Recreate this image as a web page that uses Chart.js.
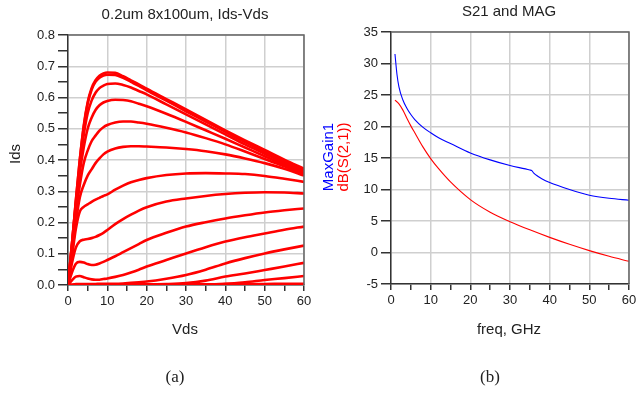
<!DOCTYPE html>
<html>
<head>
<meta charset="utf-8">
<script src="https://cdn.jsdelivr.net/npm/chart.js@4.4.0/dist/chart.umd.min.js"></script>
<style>
  html, body { margin: 0; padding: 0; background: #fff; }
  #wrap { position: relative; width: 644px; height: 393px; }
  canvas { position: absolute; top: 0; }
  #ivChart { left: 0; }
  #gainChart { left: 322px; }
</style>
</head>
<body>
<div id="wrap">
  <canvas id="ivChart" width="322" height="393"></canvas>
  <canvas id="gainChart" width="322" height="393"></canvas>
</div>
<script>
// (a) Ids-Vds family, one array per gate step
const vds = [0, 1, 2, 3, 4, 5, 6, 7, 8, 9, 10, 12, 14, 16, 18, 20, 25, 30, 35, 40, 45, 50, 55, 60]
const ids1 = [0, 0.13, 0.27, 0.40, 0.51, 0.585, 0.63, 0.655, 0.67, 0.677, 0.68, 0.679, 0.668, 0.655, 0.642, 0.628, 0.595, 0.562, 0.528, 0.495, 0.463, 0.432, 0.401, 0.372]
const ids2 = [0, 0.13, 0.27, 0.40, 0.505, 0.58, 0.625, 0.65, 0.663, 0.67, 0.673, 0.672, 0.663, 0.65, 0.637, 0.623, 0.59, 0.556, 0.523, 0.49, 0.457, 0.426, 0.396, 0.367]
const ids3 = [0, 0.13, 0.26, 0.38, 0.48, 0.55, 0.59, 0.615, 0.63, 0.638, 0.643, 0.645, 0.64, 0.632, 0.621, 0.61, 0.578, 0.546, 0.514, 0.482, 0.45, 0.42, 0.39, 0.362]
const ids4 = [0, 0.12, 0.25, 0.36, 0.44, 0.5, 0.535, 0.56, 0.575, 0.584, 0.589, 0.593, 0.592, 0.588, 0.58, 0.572, 0.548, 0.522, 0.495, 0.468, 0.44, 0.412, 0.385, 0.357]
const ids5 = [0, 0.11, 0.23, 0.32, 0.39, 0.43, 0.46, 0.478, 0.494, 0.505, 0.512, 0.52, 0.523, 0.523, 0.52, 0.516, 0.503, 0.488, 0.47, 0.45, 0.427, 0.403, 0.38, 0.353]
const ids6 = [0, 0.1, 0.2, 0.28, 0.32, 0.35, 0.37, 0.39, 0.405, 0.418, 0.427, 0.437, 0.442, 0.444, 0.444, 0.443, 0.44, 0.435, 0.428, 0.418, 0.405, 0.39, 0.372, 0.35]
const ids7 = [0, 0.09, 0.18, 0.235, 0.25, 0.258, 0.266, 0.273, 0.279, 0.285, 0.29, 0.305, 0.318, 0.329, 0.336, 0.342, 0.352, 0.357, 0.358, 0.357, 0.355, 0.349, 0.34, 0.33]
const ids8 = [0, 0.07, 0.12, 0.14, 0.145, 0.147, 0.15, 0.154, 0.16, 0.167, 0.176, 0.195, 0.211, 0.225, 0.238, 0.249, 0.267, 0.277, 0.285, 0.291, 0.295, 0.297, 0.296, 0.293]
const ids9 = [0, 0.04, 0.068, 0.074, 0.072, 0.067, 0.064, 0.065, 0.069, 0.074, 0.08, 0.092, 0.105, 0.118, 0.131, 0.144, 0.167, 0.187, 0.201, 0.213, 0.223, 0.232, 0.239, 0.245]
const ids10 = [0, 0.015, 0.027, 0.029, 0.025, 0.021, 0.018, 0.017, 0.017, 0.019, 0.021, 0.026, 0.032, 0.04, 0.049, 0.059, 0.08, 0.101, 0.121, 0.139, 0.153, 0.165, 0.177, 0.187]
const ids11 = [0, 0.001, 0.003, 0.003, 0.003, 0.003, 0.003, 0.003, 0.004, 0.004, 0.004, 0.004, 0.005, 0.007, 0.009, 0.011, 0.02, 0.032, 0.049, 0.069, 0.086, 0.101, 0.114, 0.126]
const ids12 = [0, 0, 0.001, 0.001, 0.001, 0.001, 0.001, 0.001, 0.001, 0.001, 0.001, 0.001, 0.001, 0.002, 0.002, 0.002, 0.003, 0.006, 0.014, 0.027, 0.037, 0.048, 0.059, 0.071]
const ids13 = [0, 0, 0, 0, 0, 0, 0, 0, 0, 0, 0, 0, 0, 0, 0.001, 0.001, 0.001, 0.001, 0.002, 0.004, 0.009, 0.016, 0.022, 0.029]
const ids14 = [0, 0, 0, 0, 0, 0, 0, 0, 0, 0, 0.001, 0.001, 0.001, 0.001, 0.001, 0.001, 0.002, 0.002, 0.002, 0.003, 0.003, 0.003, 0.004, 0.004]
const idsCurves = [ids1, ids2, ids3, ids4, ids5, ids6, ids7, ids8, ids9, ids10, ids11, ids12, ids13, ids14]

// (b) gain vs frequency
const freqMag = [1, 1.5, 2, 3, 4, 5, 6, 8, 10, 12, 15, 20, 25, 30, 35, 35.5, 36, 37, 38, 40, 45, 50, 55, 60]
const maxGain = [31.5, 28.3, 26.3, 24.2, 22.9, 21.9, 21.1, 19.9, 19.0, 18.2, 17.3, 15.8, 14.7, 13.8, 13.1, 13.0, 12.6, 12.1, 11.7, 11.1, 10.0, 9.1, 8.6, 8.3]
const freqS21 = [1, 2, 3, 4, 5, 6, 8, 10, 12, 15, 20, 25, 30, 35, 40, 45, 50, 55, 60]
const s21dB = [24.2, 23.6, 22.6, 21.3, 20.1, 19.0, 16.8, 14.9, 13.3, 11.2, 8.4, 6.4, 4.9, 3.6, 2.4, 1.3, 0.3, -0.6, -1.4]

Chart.defaults.font.family = '"Liberation Sans", Arial, sans-serif'
Chart.defaults.font.size = 13
Chart.defaults.color = '#222'

const SANS = '"Liberation Sans", Arial, sans-serif'
const SERIF = '"Liberation Serif", "Times New Roman", serif'

function pts(xs, ys) {
  return xs.map((x, i) => ({ x: x, y: ys[i] }))
}

// box around the plot + free text (titles, axis names, caption)
const frame = {
  id: 'frame',
  afterDatasetsDraw(chart, args, opts) {
    const { ctx, chartArea: a } = chart
    ctx.save()
    ctx.strokeStyle = '#666'
    ctx.lineWidth = 1.5
    ctx.beginPath()
    ctx.moveTo(a.left, a.top)
    ctx.lineTo(a.right, a.top)
    ctx.lineTo(a.right, a.bottom)
    ctx.stroke()
    ctx.restore()
  },
  afterDraw(chart, args, opts) {
    const ctx = chart.ctx
    ctx.save()
    ctx.textAlign = 'center'
    ctx.textBaseline = 'middle'
    opts.texts.forEach(t => {
      ctx.save()
      ctx.font = t.font
      ctx.fillStyle = t.color || '#222'
      ctx.translate(t.x, t.y)
      if (t.rot) ctx.rotate(t.rot)
      ctx.fillText(t.text, 0, 0)
      ctx.restore()
    })
    ctx.restore()
  }
}

function isMajor(v, step) {
  const r = v / step
  return Math.abs(r - Math.round(r)) < 1e-6
}

function axes(yMin, yMax, yStep, yMajor, yDigits, yWidth, xHeight) {
  return {
    x: {
      type: 'linear', min: 0, max: 60,
      afterFit: s => { s.height = xHeight },
      border: { color: '#333', width: 1.5 },
      grid: {
        color: c => isMajor(c.tick.value, 10) ? '#cfcfcf' : 'rgba(0,0,0,0)',
        lineWidth: 1.5,
        tickColor: '#333',
        tickLength: 6
      },
      ticks: {
        stepSize: 5, autoSkip: false, maxRotation: 0, padding: 3,
        callback: v => isMajor(v, 10) ? String(v) : ''
      }
    },
    y: {
      min: yMin, max: yMax,
      afterFit: s => { s.width = yWidth },
      border: { color: '#333', width: 1.5 },
      grid: {
        color: c => isMajor(c.tick.value, yMajor) ? '#cfcfcf' : 'rgba(0,0,0,0)',
        lineWidth: 1.5,
        tickColor: '#333',
        tickLength: 10
      },
      ticks: {
        stepSize: yStep, autoSkip: false, padding: 3,
        callback: v => isMajor(v, yMajor) ? v.toFixed(yDigits) : ''
      }
    }
  }
}

new Chart(document.getElementById('ivChart'), {
  type: 'line',
  data: {
    datasets: idsCurves.map(c => ({
      data: pts(vds, c),
      borderColor: '#ff0000',
      borderWidth: 2.6,
      pointRadius: 0,
      cubicInterpolationMode: 'monotone'
    }))
  },
  options: {
    responsive: false,
    animation: false,
    layout: { padding: { top: 35, right: 18, left: 0, bottom: 0 } },
    scales: axes(0, 0.8, 0.05, 0.1, 1, 68, 108),
    plugins: {
      legend: { display: false },
      tooltip: { enabled: false },
      frame: {
        texts: [
          { text: '0.2um 8x100um, Ids-Vds', x: 185, y: 15, font: '15px ' + SANS },
          { text: 'Ids', x: 16, y: 154, rot: -Math.PI / 2, font: '15px ' + SANS },
          { text: 'Vds', x: 185, y: 330, font: '15px ' + SANS },
          { text: '(a)', x: 175, y: 378, font: '17px ' + SERIF }
        ]
      }
    }
  },
  plugins: [frame]
})

new Chart(document.getElementById('gainChart'), {
  type: 'line',
  data: {
    datasets: [
      {
        label: 'MaxGain1',
        data: pts(freqMag, maxGain),
        borderColor: '#0000ff',
        borderWidth: 1.1,
        pointRadius: 0,
        cubicInterpolationMode: 'monotone'
      },
      {
        label: 'dB(S(2,1))',
        data: pts(freqS21, s21dB),
        borderColor: '#ff0000',
        borderWidth: 1.1,
        pointRadius: 0,
        cubicInterpolationMode: 'monotone'
      }
    ]
  },
  options: {
    responsive: false,
    animation: false,
    layout: { padding: { top: 32, right: 15, left: 0, bottom: 0 } },
    scales: axes(-5, 35, 5, 5, 0, 69, 109),
    plugins: {
      legend: { display: false },
      tooltip: { enabled: false },
      frame: {
        texts: [
          { text: 'S21 and MAG', x: 187, y: 12, font: '15px ' + SANS },
          { text: 'MaxGain1', x: 7, y: 157, rot: -Math.PI / 2, color: '#0000ff', font: '15px ' + SANS },
          { text: 'dB(S(2,1))', x: 22, y: 157, rot: -Math.PI / 2, color: '#ff0000', font: '15px ' + SANS },
          { text: 'freq, GHz', x: 187, y: 330, font: '15px ' + SANS },
          { text: '(b)', x: 168, y: 378, font: '17px ' + SERIF }
        ]
      }
    }
  },
  plugins: [frame]
})
</script>
</body>
</html>
